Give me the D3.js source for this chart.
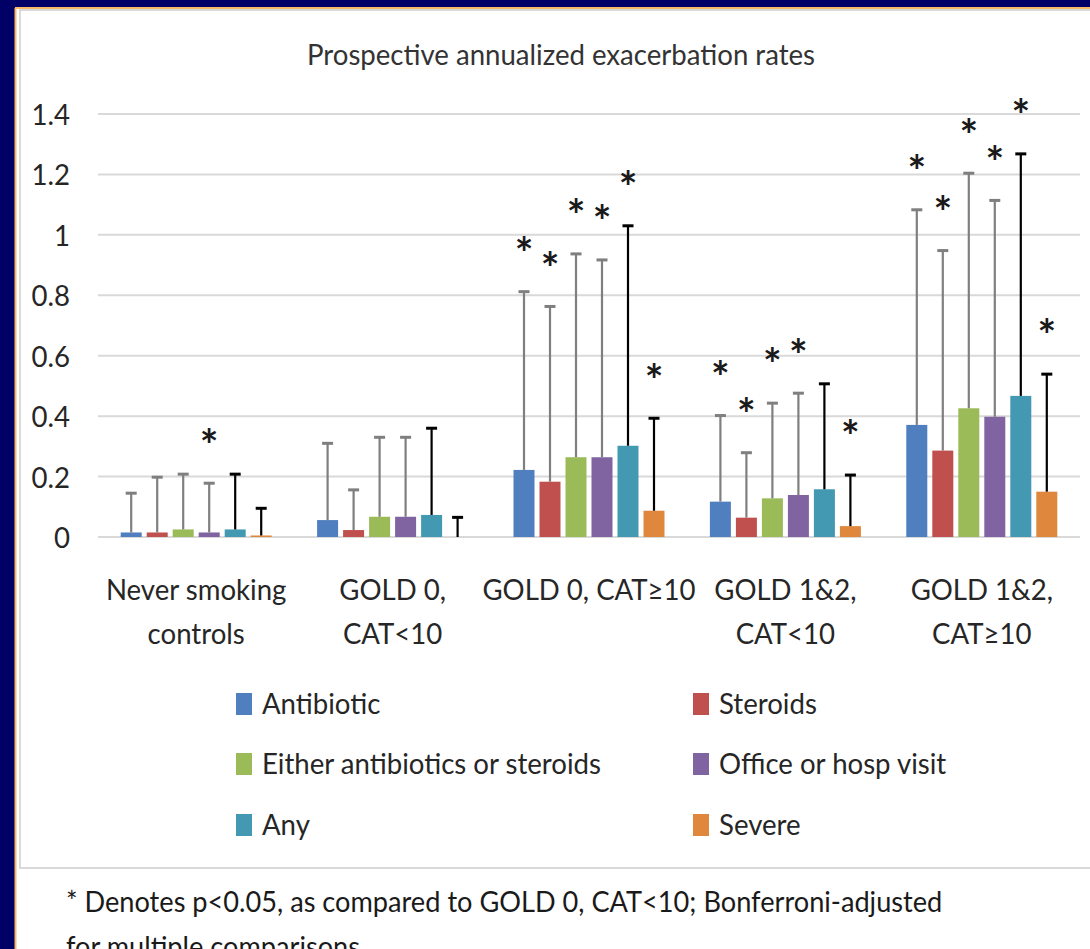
<!DOCTYPE html>
<html>
<head>
<meta charset="utf-8">
<script src="https://cdn.jsdelivr.net/npm/d3@7"></script>
<style>
  html, body { margin: 0; padding: 0; background: #000066; }
  svg { display: block; }
  text { font-family: Lato, "Noto Sans", sans-serif; fill: #262626; }
</style>
</head>
<body>
<script>
// Exacerbation categories (group labels split into lines)
const categories = ["Never smoking controls", "GOLD 0, CAT<10", "GOLD 0, CAT≥10", "GOLD 1&2, CAT<10", "GOLD 1&2, CAT≥10"];
const categoryLines = [["Never smoking", "controls"], ["GOLD 0,", "CAT<10"], ["GOLD 0, CAT≥10"], ["GOLD 1&2,", "CAT<10"], ["GOLD 1&2,", "CAT≥10"]];

// Exacerbation definitions (series)
const seriesNames = ["Antibiotic", "Steroids", "Either antibiotics or steroids", "Office or hosp visit", "Any", "Severe"];
const seriesColors = ["#4F7FBE", "#C0504D", "#9BBB59", "#8064A2", "#4299B1", "#E0873E"];
const errorColors = ["#7F7F7F", "#7F7F7F", "#7F7F7F", "#7F7F7F", "#000000", "#000000"];

// Annualized rates per series, one value per category
const antibiotic = [0.015, 0.056, 0.222, 0.117, 0.371];
const steroids   = [0.015, 0.023, 0.183, 0.064, 0.286];
const either     = [0.025, 0.067, 0.264, 0.128, 0.426];
const office     = [0.015, 0.067, 0.264, 0.139, 0.398];
const anyExac    = [0.025, 0.073, 0.302, 0.158, 0.467];
const severe     = [0.005, 0.000, 0.087, 0.036, 0.150];

// Standard deviations (upper error bars)
const antibioticSD = [0.130, 0.254, 0.590, 0.285, 0.712];
const steroidsSD   = [0.183, 0.133, 0.580, 0.215, 0.662];
const eitherSD     = [0.183, 0.263, 0.673, 0.315, 0.778];
const officeSD     = [0.163, 0.263, 0.653, 0.337, 0.716];
const anySD        = [0.183, 0.287, 0.728, 0.349, 0.801];
const severeSD     = [0.090, 0.065, 0.306, 0.169, 0.389];

// Significance flags (p<0.05 vs GOLD 0, CAT<10)
const antibioticSig = [0, 0, 1, 1, 1];
const steroidsSig   = [0, 0, 1, 1, 1];
const eitherSig     = [0, 0, 1, 1, 1];
const officeSig     = [1, 0, 1, 1, 1];
const anySig        = [0, 0, 1, 0, 1];
const severeSig     = [0, 0, 1, 1, 1];

const yTicks = [0, 0.2, 0.4, 0.6, 0.8, 1, 1.2, 1.4];

const values = [antibiotic, steroids, either, office, anyExac, severe];
const sds = [antibioticSD, steroidsSD, eitherSD, officeSD, anySD, severeSD];
const sigs = [antibioticSig, steroidsSig, eitherSig, officeSig, anySig, severeSig];

const rows = [];
seriesNames.forEach((s, si) => {
  categories.forEach((c, ci) => {
    rows.push({ series: s, si, category: c, ci, value: values[si][ci], sd: sds[si][ci], sig: sigs[si][ci] });
  });
});

const W = 1090, H = 949;
const svg = d3.select("body").append("svg").attr("width", W).attr("height", H);

// Slide background and panel
svg.append("rect").attr("width", W).attr("height", H).attr("fill", "#000066");
svg.append("rect").attr("x", 16).attr("y", 8).attr("width", W).attr("height", H).attr("fill", "#ffffff");
svg.append("line").attr("x1", 15).attr("x2", W).attr("y1", 8).attr("y2", 8).attr("stroke", "#F7B868").attr("stroke-width", 2);
svg.append("line").attr("x1", 15.5).attr("x2", 15.5).attr("y1", 8).attr("y2", H).attr("stroke", "#F7B868").attr("stroke-width", 2);

// Chart area frame
svg.append("rect").attr("x", 20).attr("y", 10).attr("width", W).attr("height", 858)
  .attr("fill", "#ffffff").attr("stroke", "#D9D9D9").attr("stroke-width", 2);

const FS = 29;
const title = svg.append("text").attr("x", 561).attr("y", 65).attr("text-anchor", "middle")
  .style("font-size", FS + "px").style("fill", "#333").text("Prospective annualized exacerbation rates");
const K = 508 / title.node().getComputedTextLength();
function condense(sel, k = K) {
  sel.each(function () {
    const w = this.getComputedTextLength();
    d3.select(this).attr("textLength", w * k).attr("lengthAdjust", "spacingAndGlyphs");
  });
}
condense(title);

// Scales
const x0 = d3.scaleBand().domain(categories).range([98, 1080]).paddingInner(0).paddingOuter(0);
const x1 = d3.scaleBand().domain(seriesNames).range([0, x0.bandwidth()]).paddingInner(0.1923).paddingOuter(0.873);
const y = d3.scaleLinear().domain([0, 1.4]).range([537, 114]);

// Gridlines
svg.append("g").selectAll("line").data(yTicks).join("line")
  .attr("x1", 98).attr("x2", 1080)
  .attr("y1", d => y(d)).attr("y2", d => y(d))
  .attr("stroke", "#D9D9D9").attr("stroke-width", 2);

// Y axis labels
const yAxis = svg.append("g").attr("transform", "translate(70,0)")
  .call(d3.axisLeft(y).tickValues(yTicks).tickFormat(d3.format("~g")).tickSize(0).tickPadding(0));
yAxis.select(".domain").remove();
yAxis.selectAll("text").style("font-size", FS + "px").style("font-family", "Lato, 'Noto Sans', sans-serif")
  .attr("fill", "#262626").attr("dy", "0.36em");
condense(yAxis.selectAll("text"));

// Bars
const plot = svg.append("g");
plot.selectAll("rect.bar").data(rows).join("rect").attr("class", "bar")
  .attr("x", d => x0(d.category) + x1(d.series))
  .attr("width", x1.bandwidth())
  .attr("y", d => y(d.value))
  .attr("height", d => y(0) - y(d.value))
  .attr("fill", d => seriesColors[d.si]);

// Error bars
const capW = 11;
const eb = plot.selectAll("g.err").data(rows).join("g").attr("class", "err")
  .attr("stroke", d => errorColors[d.si]);
eb.append("line")
  .attr("x1", d => x0(d.category) + x1(d.series) + x1.bandwidth() / 2)
  .attr("x2", d => x0(d.category) + x1(d.series) + x1.bandwidth() / 2)
  .attr("y1", d => y(d.value)).attr("y2", d => y(d.value + d.sd))
  .attr("stroke-width", 2.2);
eb.append("line")
  .attr("x1", d => x0(d.category) + x1(d.series) + x1.bandwidth() / 2 - capW / 2)
  .attr("x2", d => x0(d.category) + x1(d.series) + x1.bandwidth() / 2 + capW / 2)
  .attr("y1", d => y(d.value + d.sd)).attr("y2", d => y(d.value + d.sd))
  .attr("stroke-width", 3);

// Significance asterisks
const starGap = 48;
const stars = plot.selectAll("text.star").data(rows.filter(d => d.sig)).join("text").attr("class", "star")
  .attr("x", d => x0(d.category) + x1(d.series) + x1.bandwidth() / 2)
  .attr("y", d => y(d.value + d.sd) - starGap)
  .attr("text-anchor", "middle")
  .style("font-size", "44px").style("font-weight", "bold").style("fill", "#1a1a1a")
  .text("*");
stars.each(function (d) {
  const bb = this.getBBox();
  const target = y(d.value + d.sd) - starGap;
  const cy = bb.y + bb.height * 0.34;
  d3.select(this).attr("y", +d3.select(this).attr("y") + (target - cy));
});

// Category labels
const cat = svg.append("g").selectAll("text").data(categoryLines).join("text")
  .attr("text-anchor", "middle")
  .style("font-size", FS + "px")
  .attr("x", (d, i) => x0(categories[i]) + x0.bandwidth() / 2)
  .attr("y", 600);
cat.selectAll("tspan").data(d => d).join("tspan")
  .attr("x", function () { return this.parentNode.getAttribute("x"); })
  .attr("dy", (d, i) => i === 0 ? 0 : 44)
  .text(d => d);
cat.each(function () {
  d3.select(this).selectAll("tspan").each(function () {
    const w = this.getComputedTextLength();
    d3.select(this).attr("textLength", w * K).attr("lengthAdjust", "spacingAndGlyphs");
  });
});

// Legend
const legendCols = [236, 693];
const legendRows = [704, 764, 825];
const lg = svg.append("g").selectAll("g").data(seriesNames).join("g")
  .attr("transform", (d, i) => `translate(${legendCols[i % 2]},${legendRows[Math.floor(i / 2)]})`);
lg.append("rect").attr("x", 0).attr("y", -11).attr("width", 16).attr("height", 22)
  .attr("fill", (d, i) => seriesColors[i]);
const lgText = lg.append("text").attr("x", 26).attr("y", 0).attr("dy", "0.36em")
  .style("font-size", FS + "px").text(d => d);
condense(lgText);

// Footnote
const foot = svg.append("g").selectAll("text")
  .data(["* Denotes p<0.05, as compared to GOLD 0, CAT<10; Bonferroni-adjusted", "for multiple comparisons"])
  .join("text")
  .attr("x", 66).attr("y", (d, i) => 912 + i * 45)
  .style("font-size", FS + "px").style("fill", "#1a1a1a")
  .text(d => d);
condense(foot, K * 0.985);
</script>
</body>
</html>
